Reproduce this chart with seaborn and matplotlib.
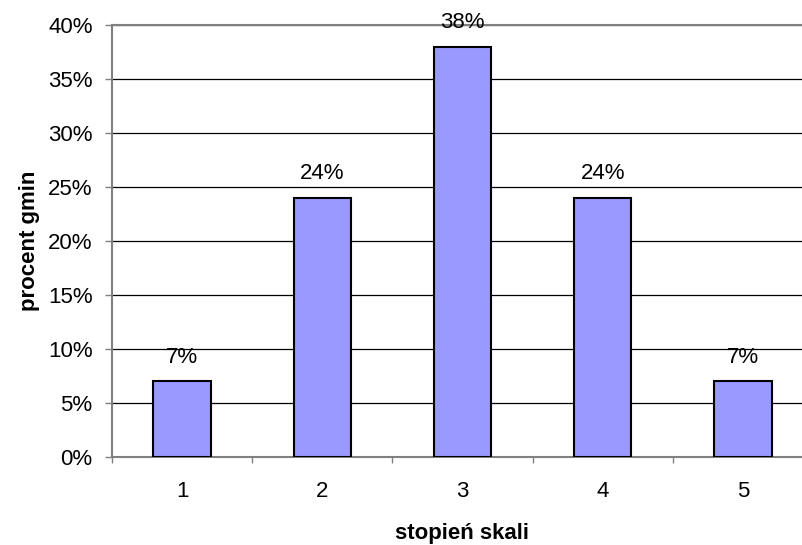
import matplotlib.pyplot as plt
import seaborn as sns
import numpy as np

categories = ['1', '2', '3', '4', '5']
percents = [7, 24, 38, 24, 7]
yticks = [0, 5, 10, 15, 20, 25, 30, 35, 40]

sns.set_style('white')
plt.rcParams['font.family'] = ['Liberation Sans', 'DejaVu Sans']
plt.rcParams['text.color'] = 'black'
plt.rcParams['axes.labelcolor'] = 'black'
fs = 16

fig = plt.figure(figsize=(8.03, 5.45), dpi=100)
ax = fig.add_axes([112/803, (545-457)/545, (813-112)/803, (457-25)/545])

sns.barplot(x=categories, y=percents, color='#9999FF', edgecolor='black',
            linewidth=1.5, width=0.41, saturation=1, ax=ax, zorder=3)

ax.set_ylim(0, 40)
ax.set_xlim(-0.5, 4.5)
ax.set_yticks(yticks)
ax.set_yticklabels([f'{v}%' for v in yticks], fontsize=fs)
ax.grid(axis='y', color='black', linewidth=0.9, zorder=0)
ax.set_axisbelow(True)

# value labels above bars
for i, v in enumerate(percents):
    ax.text(i, v + 1.7, f'{v}%', ha='center', va='baseline', fontsize=fs,
            color='black', zorder=5)

ax.set_xticks(np.arange(-0.5, 4.5, 1), minor=False)
ax.set_xticklabels([])
ax.set_xticks(range(5), minor=True)
ax.set_xticklabels(categories, minor=True, fontsize=fs)
ax.tick_params(axis='x', which='minor', length=0, pad=17.5, labelcolor='black')
ax.tick_params(axis='x', which='major', length=4.5, width=1, color='#808080', direction='out', bottom=True)
ax.tick_params(axis='y', length=5, width=1, color='#808080', direction='out', left=True, pad=9,
               labelcolor='black')

for s in ['left', 'bottom', 'top']:
    ax.spines[s].set_color('#808080')
    ax.spines[s].set_linewidth(1.5)
ax.spines['right'].set_visible(False)

ax.set_xlabel('stopień skali', fontsize=fs, fontweight='bold', labelpad=15)
ax.set_ylabel('procent gmin', fontsize=fs, fontweight='bold', labelpad=5.5)

fig.savefig('out.png', dpi=100)
